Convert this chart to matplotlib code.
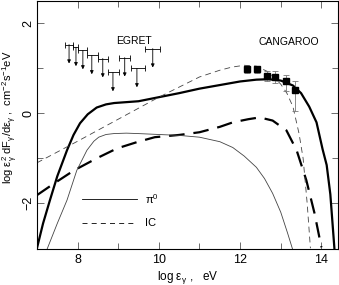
import matplotlib
matplotlib.use("Agg")
import matplotlib.pyplot as plt
import numpy as np

plt.rcParams['font.family'] = ['Liberation Sans', 'DejaVu Sans']
plt.rcParams['mathtext.fontset'] = 'custom'
plt.rcParams['mathtext.rm'] = 'Liberation Sans'
plt.rcParams['mathtext.it'] = 'Liberation Sans'
plt.rcParams['mathtext.default'] = 'regular'

# total spectrum, model with thick lines
tot_x = [7.0, 7.15, 7.32, 7.5, 7.74, 7.9, 8.06, 8.25, 8.47, 8.7, 8.9, 9.2, 9.5,
         10.0, 10.5, 11.0, 11.5, 12.0, 12.4, 12.7, 13.0, 13.3, 13.5, 13.7,
         13.88, 14.03, 14.13, 14.22, 14.32]
tot_y = [-3.0, -2.45, -1.93, -1.4, -0.82, -0.48, -0.22, -0.02, 0.13, 0.2, 0.23,
         0.25, 0.27, 0.36, 0.45, 0.55, 0.63, 0.71, 0.75, 0.76, 0.73, 0.62, 0.45,
         0.15, -0.2, -0.8, -1.15, -1.8, -3.0]

# thick dashed (IC)
ic_x = [7.0, 7.42, 7.91, 8.47, 8.97, 9.46, 9.9, 10.5, 11.0, 11.5, 11.82, 12.2,
        12.48, 12.8, 13.14, 13.39, 13.63, 13.83, 14.0]
ic_y = [-1.82, -1.56, -1.27, -1.0, -0.78, -0.64, -0.53, -0.48, -0.42, -0.3,
        -0.2, -0.13, -0.09, -0.16, -0.38, -0.82, -1.49, -2.22, -2.98]

# thin solid (pi0)
pi_x = [7.25, 7.5, 7.74, 7.98, 8.23, 8.4, 8.52, 8.7, 8.89, 9.2, 9.5, 10.0, 10.5,
        11.0, 11.5, 11.82, 12.1, 12.4, 12.6, 12.8, 13.0, 13.17, 13.29]
pi_y = [-3.02, -2.45, -1.93, -1.27, -0.82, -0.62, -0.53, -0.47, -0.45, -0.44,
        -0.45, -0.47, -0.49, -0.53, -0.63, -0.76, -0.95, -1.2, -1.45, -1.78,
        -2.2, -2.67, -3.02]

# thin dashed
ic2_x = [7.0, 8.0, 9.0, 10.0, 11.0, 11.5, 11.8, 12.1, 12.4, 12.7, 13.0, 13.15,
         13.3, 13.45, 13.55, 13.65, 13.73]
ic2_y = [-1.1, -0.62, -0.13, 0.36, 0.81, 0.96, 1.03, 1.07, 1.05, 0.92, 0.65,
         0.45, 0.15, -0.45, -1.0, -2.0, -3.0]

# EGRET upper limits
egret_x = [7.79, 7.96, 8.13, 8.35, 8.62, 8.87, 9.16, 9.46, 9.85]
egret_lo = [7.69, 7.88, 8.01, 8.23, 8.50, 8.74, 9.01, 9.31, 9.65]
egret_hi = [7.88, 8.01, 8.23, 8.50, 8.74, 9.01, 9.29, 9.65, 10.02]
egret_y = [1.53, 1.47, 1.40, 1.29, 1.22, 0.91, 1.24, 1.00, 1.44]

# CANGAROO points
cang_x = [12.18, 12.41, 12.65, 12.87, 13.12, 13.36]
cang_y = [0.98, 0.98, 0.84, 0.82, 0.71, 0.51]
cang_lo = [0.08, 0.08, 0.11, 0.15, 0.22, 0.45]
cang_hi = [0.08, 0.08, 0.11, 0.12, 0.15, 0.2]

fig = plt.figure(figsize=(3.39, 2.85), dpi=100)
ax = fig.add_axes([0.109, 0.126, 0.887, 0.872])

ax.plot(tot_x, tot_y, color='black', lw=1.6)
ax.plot(ic_x, ic_y, color='black', lw=1.6, dashes=(7, 4))
ax.plot(pi_x, pi_y, color='#444444', lw=0.6)
ax.plot(ic2_x, ic2_y, color='#444444', lw=0.6, dashes=(7, 5))

ex = np.array(egret_x)
ax.errorbar(egret_x, egret_y,
            xerr=[ex - np.array(egret_lo), np.array(egret_hi) - ex],
            fmt='none', ecolor='black', elinewidth=0.6, capsize=2, capthick=0.6)
for x, y in zip(egret_x, egret_y):
    ax.annotate('', xy=(x, y - 0.42), xytext=(x, y),
                arrowprops=dict(arrowstyle='-|>', lw=0.6, color='black',
                                mutation_scale=5, shrinkA=0, shrinkB=0))

ax.errorbar(cang_x, cang_y, yerr=[cang_lo, cang_hi], fmt='s', color='black',
            markersize=5, ecolor='#777777', elinewidth=0.6, capsize=2.5,
            capthick=0.6)

ax.text(9.38, 1.62, 'EGRET', fontsize=7.5, ha='center', va='center')
ax.text(13.2, 1.58, 'CANGAROO', fontsize=7.5, ha='center', va='center')

# legend drawn by hand
ax.plot([8.1, 9.46], [-1.91, -1.91], color='black', lw=0.6)
ax.plot([8.1, 9.46], [-2.44, -2.44], color='black', lw=0.6, dashes=(6, 5))
ax.text(9.65, -1.91, r'$\pi^0$', fontsize=8, va='center')
ax.text(9.65, -2.44, 'IC', fontsize=8, va='center')

ax.set_xlim(7, 14.4)
ax.set_ylim(-3.02, 2.51)
ax.set_xticks([8, 10, 12, 14])
ax.set_xticks([9, 11, 13], minor=True)
ax.set_yticks([-2, 0, 2])
ax.set_yticks([-1, 1], minor=True)
ax.set_yticklabels(['\u22122', '0', '2'], rotation=90, va='center')
ax.tick_params(which='both', direction='in', top=True, right=True,
               labelsize=9, width=0.6, color='#555555')
ax.tick_params(which='major', length=5)
ax.tick_params(which='minor', length=4)
ax.tick_params(axis='y', pad=2)
for s in ax.spines.values():
    s.set_linewidth(0.8)

ax.set_xlabel(r'log $ε_γ$ ,   eV', fontsize=8.5, labelpad=2)
ax.set_ylabel(r'log $ε_γ^2$ dF$_γ$/d$ε_γ$ ,  cm$^{-2}$s$^{-1}$eV',
              fontsize=8)
ax.yaxis.set_label_coords(-0.056, 0.53)

fig.savefig('out.png', dpi=100)
